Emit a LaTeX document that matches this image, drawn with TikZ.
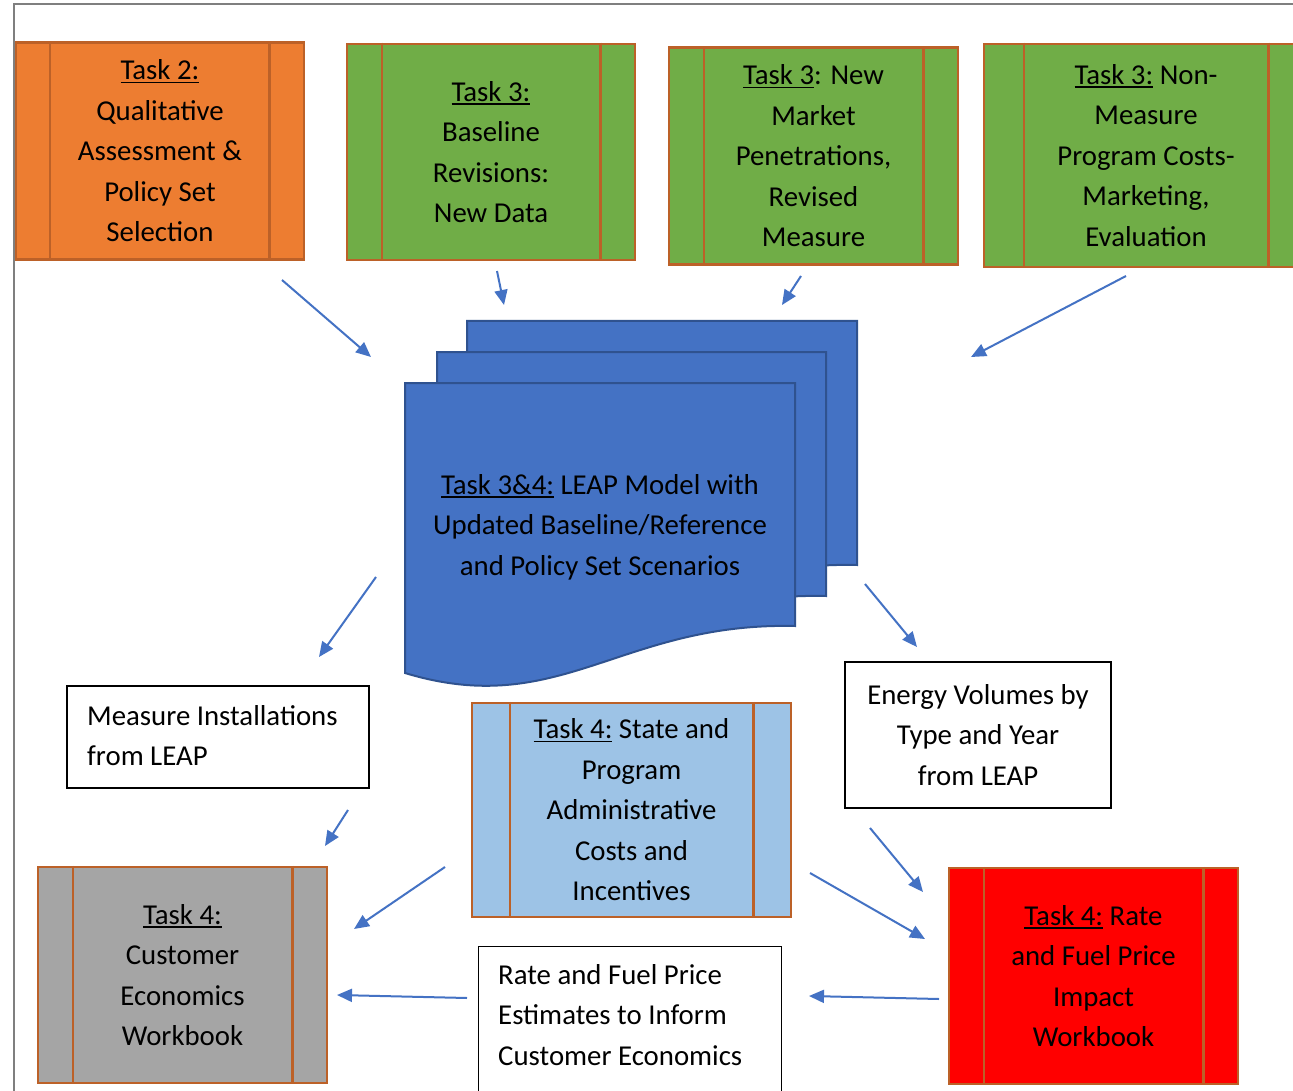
\documentclass[tikz,border=0pt]{standalone}
\usepackage{fontspec}
\setmainfont{Carlito}
\usetikzlibrary{arrows.meta}
\definecolor{orangefill}{HTML}{ED7D31}
\definecolor{greenfill}{HTML}{70AD47}
\definecolor{lbluefill}{HTML}{9DC3E6}
\definecolor{greyfill}{HTML}{A5A5A5}
\definecolor{redfill}{HTML}{FF0000}
\definecolor{docfill}{HTML}{4472C4}
\definecolor{docline}{HTML}{2F528F}
\definecolor{brd}{HTML}{BC6128}
\definecolor{arrowblue}{HTML}{4472C4}
\definecolor{framegray}{HTML}{7F7F7F}
\newsavebox\tulbox
\newcommand\tul[1]{\sbox\tulbox{#1}\rlap{\rule[-3.5pt]{\wd\tulbox}{1.8pt}}\usebox\tulbox}
\tikzset{
  txt/.style={font=\fontsize{28.8}{40.5}\selectfont, text=black},
  taskbox/.style={txt, draw=brd, line width=2.5pt, inner sep=0pt, align=center},
  strip/.style={draw=brd, line width=2.5pt},
  plainbox/.style={draw=black, line width=1.3pt, fill=white},
  arr/.style={draw=arrowblue, line width=2pt, -{Triangle[length=15pt,width=13pt]}},
  docsheet/.style={fill=docfill, draw=docline, line width=2pt},
  frame/.style={draw=framegray, line width=2pt}
}
\begin{document}
\begin{tikzpicture}[x=1pt,y=-1pt]
\useasboundingbox (0,0) rectangle (1293,1091);
\fill[white] (0,0) rectangle (1293,1091);
\draw[frame] (14,1091) -- (14,4) -- (1293,4);

% top task boxes
\node[taskbox, fill=orangefill, minimum width=288pt, minimum height=217pt] (t2) at (160,151)
  {\tul{Task 2:}\\Qualitative\\Assessment \&\\Policy Set\\Selection};
\draw[strip] ([xshift=35pt]t2.north west) -- ([xshift=35pt]t2.south west);
\draw[strip] ([xshift=-36pt]t2.north east) -- ([xshift=-36pt]t2.south east);

\node[taskbox, fill=greenfill, minimum width=288pt, minimum height=216pt] (t3a) at (491,152)
  {\tul{Task 3:}\\Baseline\\Revisions:\\New Data};
\draw[strip] ([xshift=36pt]t3a.north west) -- ([xshift=36pt]t3a.south west);
\draw[strip] ([xshift=-36pt]t3a.north east) -- ([xshift=-36pt]t3a.south east);

\node[taskbox, fill=greenfill, minimum width=289pt, minimum height=217pt] (t3b) at (813.5,156)
  {\tul{Task 3}: New\\Market\\Penetrations,\\Revised\\Measure};
\draw[strip] ([xshift=36pt]t3b.north west) -- ([xshift=36pt]t3b.south west);
\draw[strip] ([xshift=-36pt]t3b.north east) -- ([xshift=-36pt]t3b.south east);

\node[taskbox, fill=greenfill, minimum width=324pt, minimum height=223pt] (t3c) at (1146,155.5)
  {\tul{Task 3:} Non-\\Measure\\Program Costs-\\Marketing,\\Evaluation};
\draw[strip] ([xshift=41pt]t3c.north west) -- ([xshift=41pt]t3c.south west);
\draw[strip] ([xshift=-41pt]t3c.north east) -- ([xshift=-41pt]t3c.south east);

% document stack
\path[docsheet] (467,321) -- (857,321) -- (857,565) .. controls (682,561) and (622,659) .. (467,611) -- cycle;
\path[docsheet] (437,352) -- (826,352) -- (826,596) .. controls (651,592) and (591,690) .. (437,642) -- cycle;
\path[docsheet] (405,383) -- (795,383) -- (795,626) .. controls (620,622) and (560,720) .. (405,673) -- cycle;
\node[txt, align=center] (leap) at (600,527)
  {\tul{Task 3\&4:} LEAP Model with\\Updated Baseline/Reference\\and Policy Set Scenarios};

% middle boxes
\node[plainbox, minimum width=302pt, minimum height=102pt] (mi) at (218,737) {};
\node[txt, align=left, anchor=west, inner sep=0pt] (mit) at (87,735.5)
  {Measure Installations\\from LEAP};

\node[taskbox, fill=lbluefill, minimum width=319pt, minimum height=214pt] (t4s) at (631.5,810)
  {\tul{Task 4:} State and\\Program\\Administrative\\Costs and\\Incentives};
\draw[strip] ([xshift=39pt]t4s.north west) -- ([xshift=39pt]t4s.south west);
\draw[strip] ([xshift=-39pt]t4s.north east) -- ([xshift=-39pt]t4s.south east);

\node[plainbox, txt, align=center, minimum width=266pt, minimum height=146pt, inner sep=0pt] (ev) at (978,735)
  {Energy Volumes by\\Type and Year\\from LEAP};

% bottom boxes
\node[taskbox, fill=greyfill, minimum width=289pt, minimum height=216pt] (t4c) at (182.5,975)
  {\tul{Task 4:}\\Customer\\Economics\\Workbook};
\draw[strip] ([xshift=36pt]t4c.north west) -- ([xshift=36pt]t4c.south west);
\draw[strip] ([xshift=-36pt]t4c.north east) -- ([xshift=-36pt]t4c.south east);

\node[taskbox, fill=redfill, minimum width=289pt, minimum height=216pt] (t4r) at (1093.5,976)
  {\tul{Task 4:} Rate\\and Fuel Price\\Impact\\Workbook};
\draw[strip] ([xshift=36pt]t4r.north west) -- ([xshift=36pt]t4r.south west);
\draw[strip] ([xshift=-36pt]t4r.north east) -- ([xshift=-36pt]t4r.south east);

\node[plainbox, minimum width=303pt, minimum height=160pt, anchor=north west] (rf) at (478,946) {};
\node[txt, align=left, anchor=west, inner sep=0pt] (rft) at (498,1015)
  {Rate and Fuel Price\\Estimates to Inform\\Customer Economics};

% arrows
\coordinate (a1s) at (282,280);  \coordinate (a1e) at (371,357);
\coordinate (a2s) at (497,271);  \coordinate (a2e) at (504,305);
\coordinate (a3s) at (801,276);  \coordinate (a3e) at (782,305);
\coordinate (a4s) at (1126,276); \coordinate (a4e) at (971,357);
\coordinate (a5s) at (376,577);  \coordinate (a5e) at (319,657);
\coordinate (a6s) at (865,584);  \coordinate (a6e) at (917,647);
\coordinate (a7s) at (348,810);  \coordinate (a7e) at (325,846);
\coordinate (a8s) at (445,867);  \coordinate (a8e) at (354,929);
\coordinate (a9s) at (870,828);  \coordinate (a9e) at (923,892);
\coordinate (a10s) at (810,873); \coordinate (a10e) at (925,939);
\coordinate (a11s) at (467,998); \coordinate (a11e) at (337,995);
\coordinate (a12s) at (939,999); \coordinate (a12e) at (809,996);
\foreach \i in {1,...,12} {\draw[arr] (a\i s) -- (a\i e);}
\end{tikzpicture}
\end{document}
